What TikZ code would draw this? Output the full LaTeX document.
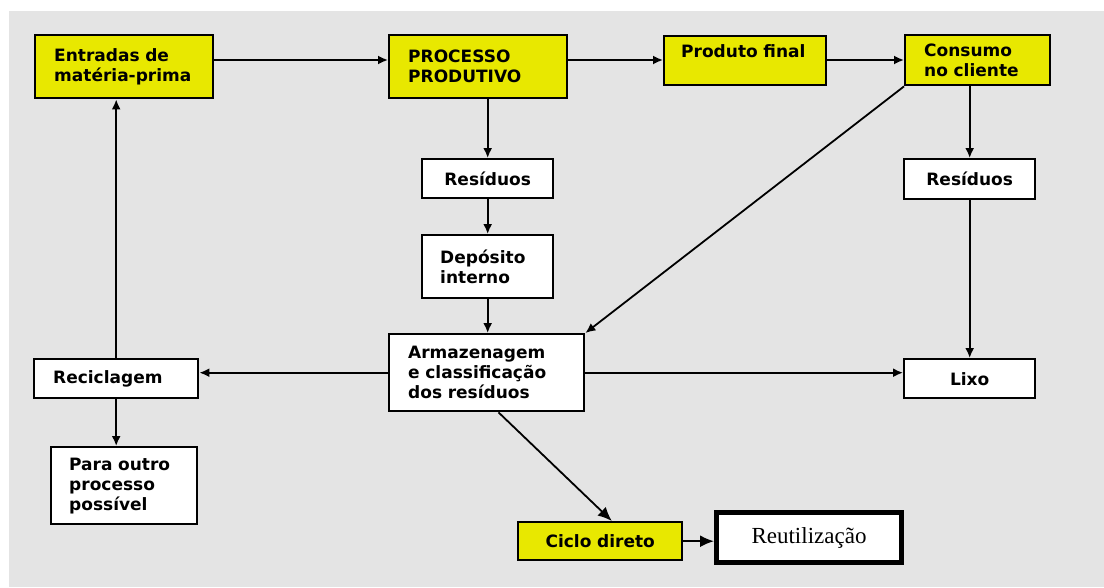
\documentclass[tikz,border=0pt]{standalone}
\usepackage{fontspec}
\setmainfont{DejaVu Sans}
\newfontfamily\serifrm{Liberation Serif}
\usetikzlibrary{arrows.meta,calc}
\definecolor{bggray}{RGB}{228,228,228}
\definecolor{boxyellow}{RGB}{232,232,0}
\tikzset{
  box/.style={draw=black, line width=2.4pt, fill=white, inner xsep=18pt, inner ysep=0pt,
    font=\bfseries\fontsize{17}{20}\selectfont, align=left, anchor=north west},
  ybox/.style={box, fill=boxyellow},
  conn/.style={line width=1.8pt, -{Latex[length=10pt,width=9pt]}},
  bigconn/.style={line width=1.8pt, -{Latex[length=14pt,width=12pt]}}
}
\begin{document}
\begin{tikzpicture}[x=1pt,y=-1pt]
\useasboundingbox (0,0) rectangle (1104,587);
\fill[white] (0,0) rectangle (1104,587);
\fill[bggray] (9,11) rectangle (1104,587);

\node[ybox, minimum width=178pt, minimum height=63pt, text width=140pt] (ent) at (34,34) {Entradas de\\matéria-prima};
\node[ybox, minimum width=178pt, minimum height=63pt, text width=140pt] (proc) at (388,34) {PROCESSO\\PRODUTIVO};
\node[ybox, minimum width=162pt, minimum height=49pt, text width=144pt, inner xsep=9pt] (prod) at (663,35) {\hspace*{8pt}Produto final\\\mbox{}};
\node[ybox, minimum width=145pt, minimum height=50pt, text width=107pt] (cons) at (904,34) {Consumo\\no cliente};

\node[box, minimum width=131pt, minimum height=39pt, text width=131pt, inner xsep=0pt, align=center] (res1) at (421,158) {Resíduos};
\node[box, minimum width=131pt, minimum height=63pt, text width=95pt] (dep) at (421,234) {Depósito\\interno};
\node[box, minimum width=131pt, minimum height=40pt, text width=131pt, inner xsep=0pt, align=center] (res2) at (903,158) {Resíduos};

\node[box, minimum width=195pt, minimum height=77pt, text width=157pt] (arm) at (388,333) {Armazenagem\\e classificação\\dos resíduos};
\node[box, minimum width=164pt, minimum height=39pt, text width=126pt] (rec) at (33,358) {Reciclagem};
\node[box, minimum width=146pt, minimum height=77pt, text width=110pt] (para) at (50,446) {Para outro\\processo\\possível};
\node[box, minimum width=131pt, minimum height=39pt, text width=131pt, inner xsep=0pt, align=center] (lixo) at (903,358) {Lixo};

\node[ybox, minimum width=164pt, minimum height=38pt, text width=146pt, inner xsep=9pt, align=center] (cic) at (517,521) {Ciclo direto};
\node[draw=black, line width=5pt, fill=white, minimum width=185pt, minimum height=50pt, anchor=north west,
  font=\serifrm\fontsize{23}{26}\selectfont] (reu) at (714,510) {Reutilização};

\draw[conn] (ent.east |- 0,60) -- (proc.west |- 0,60);
\draw[conn] (proc.east |- 0,60) -- (prod.west |- 0,60);
\draw[conn] (prod.east |- 0,60) -- (cons.west |- 0,60);

\draw[conn] (res1.north |- proc.south) -- (res1.north);
\draw[conn] (res1.south) -- (dep.north);
\draw[conn] (dep.south) -- (arm.north -| dep.south);
\draw[conn] (cons.south west) -- (arm.north east);

\draw[conn] (res2.north |- cons.south) -- (res2.north);
\draw[conn] (res2.south) -- (lixo.north);

\draw[conn] (arm.west) -- (rec.east |- arm.west);
\draw[conn] (arm.east) -- (lixo.west |- arm.east);
\draw[conn] (rec.north) -- (rec.north |- ent.south);
\draw[conn] (rec.south) -- (rec.south |- para.north);

\coordinate (armout) at ($(arm.south west)!0.56!(arm.south east)$);
\draw[bigconn] (armout) -- ($(cic.north west)!0.57!(cic.north east)$);
\draw[bigconn] (cic.east) -- (reu.west |- cic.east);
\end{tikzpicture}
\end{document}
